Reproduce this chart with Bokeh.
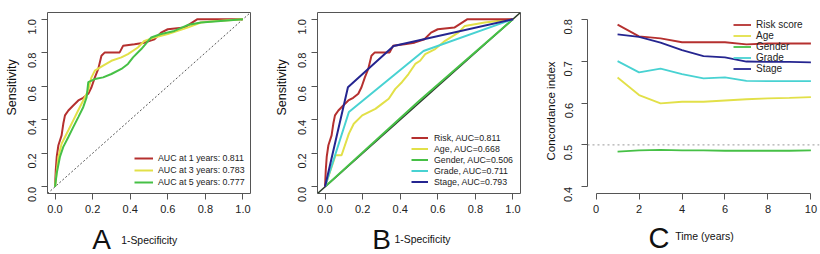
import math
from bokeh.plotting import figure
from bokeh.layouts import row, column
from bokeh.models import Range1d, FixedTicker, Legend, LegendItem, Label, Title
from bokeh.embed import file_html
from bokeh.resources import INLINE

FONT = "Liberation Sans"

# ---------------- data ----------------
# Panel A: time-dependent ROC (1-Specificity, Sensitivity)
a_1y_fpr = [0, 0.004, 0.009, 0.018, 0.035, 0.044, 0.053, 0.071, 0.097, 0.124, 0.150, 0.177,
            0.194, 0.212, 0.230, 0.247, 0.265, 0.344, 0.362, 0.423, 0.476, 0.529, 0.564, 0.600,
            0.688, 0.758, 1.0]
a_1y_tpr = [0, 0.099, 0.178, 0.248, 0.307, 0.376, 0.426, 0.455, 0.485, 0.515, 0.531, 0.555,
            0.594, 0.653, 0.703, 0.782, 0.802, 0.802, 0.841, 0.850, 0.860, 0.880, 0.920, 0.940,
            0.950, 1.0, 1.0]
a_3y_fpr = [0, 0.018, 0.035, 0.053, 0.071, 0.097, 0.123, 0.150, 0.176, 0.194, 0.212, 0.256,
            0.300, 0.353, 0.388, 0.441, 0.476, 0.529, 0.600, 0.653, 0.705, 0.776, 0.864, 1.0]
a_3y_tpr = [0, 0.178, 0.257, 0.297, 0.337, 0.396, 0.455, 0.515, 0.574, 0.653, 0.693, 0.723,
            0.752, 0.772, 0.792, 0.831, 0.871, 0.891, 0.911, 0.931, 0.950, 0.980, 0.990, 1.0]
a_5y_fpr = [0, 0.009, 0.026, 0.044, 0.071, 0.097, 0.124, 0.150, 0.168, 0.177, 0.212, 0.256,
            0.300, 0.353, 0.388, 0.415, 0.459, 0.512, 0.560, 0.635, 0.705, 0.776, 0.864, 1.0]
a_5y_tpr = [0, 0.080, 0.178, 0.238, 0.297, 0.356, 0.416, 0.475, 0.534, 0.624, 0.643, 0.653,
            0.673, 0.703, 0.733, 0.772, 0.822, 0.891, 0.910, 0.930, 0.965, 0.980, 0.988, 1.0]
a_labels = ["AUC at 1 years: 0.811", "AUC at 3 years: 0.783", "AUC at 5 years: 0.777"]

# Panel B: ROC of risk score vs clinical variables
b_risk_fpr = a_1y_fpr
b_risk_tpr = a_1y_tpr
b_age_fpr = [0, 0.056, 0.088, 0.127, 0.153, 0.198, 0.233, 0.268, 0.303, 0.339, 0.374, 0.409,
             0.444, 0.480, 0.506, 0.533, 0.586, 0.639, 0.709, 0.744, 0.850, 1.0]
b_age_tpr = [0, 0.188, 0.188, 0.317, 0.376, 0.426, 0.446, 0.465, 0.495, 0.525, 0.584, 0.624,
             0.673, 0.733, 0.752, 0.792, 0.822, 0.871, 0.920, 0.960, 0.980, 1.0]
b_gender_fpr = [0, 0.5, 1.0]
b_gender_tpr = [0, 0.512, 1.0]
b_grade_fpr = [0, 0.127, 0.524, 1.0]
b_grade_tpr = [0, 0.446, 0.810, 1.0]
b_stage_fpr = [0, 0.122, 0.365, 1.0]
b_stage_tpr = [0, 0.594, 0.840, 1.0]
b_labels = ["Risk, AUC=0.811", "Age, AUC=0.668", "Gender, AUC=0.506",
            "Grade, AUC=0.711", "Stage, AUC=0.793"]

# Panel C: concordance index over time
c_years = [1, 2, 3, 4, 5, 6, 7, 8, 9, 10]
c_risk = [0.787, 0.759, 0.754, 0.745, 0.745, 0.745, 0.740, 0.742, 0.742, 0.742]
c_age = [0.661, 0.619, 0.599, 0.603, 0.603, 0.606, 0.609, 0.611, 0.612, 0.614]
c_gender = [0.484, 0.487, 0.488, 0.487, 0.487, 0.486, 0.486, 0.486, 0.486, 0.487]
c_grade = [0.700, 0.673, 0.682, 0.669, 0.659, 0.661, 0.653, 0.652, 0.652, 0.652]
c_stage = [0.764, 0.758, 0.744, 0.726, 0.712, 0.709, 0.699, 0.698, 0.698, 0.697]
c_labels = ["Risk score", "Age", "Gender", "Grade", "Stage"]

roc_ticks = [0, 0.2, 0.4, 0.6, 0.8, 1.0]
roc_tick_labels = ["0.0", "0.2", "0.4", "0.6", "0.8", "1.0"]
c_xticks = [0, 2, 4, 6, 8, 10]
c_yticks = [0.4, 0.5, 0.6, 0.7, 0.8]
c_ytick_labels = ["0.4", "0.5", "0.6", "0.7", "0.8"]

panel_letters = ["A", "B", "C"]
x_titles = ["1-Specificity", "1-Specificity", "Time (years)"]
y_titles = ["Sensitivity", "Sensitivity", "Concordance index"]

RED = "#B5302F"
YEL = "#E2E048"
GRN = "#46C046"
CYA = "#48D2D2"
BLU = "#252590"
AX = "#555555"
TXT = "#222222"

MAIN_H = 222


def style_axes(p, ystand=9, xstand=5, tick_out=6):
    for ax in (p.xaxis[0], p.yaxis[0]):
        ax.axis_line_color = AX
        ax.major_tick_line_color = AX
        ax.minor_tick_line_color = None
        ax.major_tick_in = 0
        ax.major_tick_out = tick_out
        ax.major_label_text_font = FONT
        ax.major_label_text_font_size = "11px"
        ax.major_label_text_color = TXT
    p.xaxis[0].major_label_standoff = xstand
    p.yaxis[0].major_label_standoff = ystand
    p.yaxis[0].major_label_orientation = math.pi / 2
    p.xgrid.visible = False
    p.ygrid.visible = False


def y_title(p, text, size, offset, standoff):
    # align="left" on a left-side title puts the start of the text at the frame bottom,
    # shifted upward by `offset`
    p.add_layout(Title(text=text, align="left", offset=offset, standoff=standoff,
                       text_font=FONT, text_font_size=size, text_font_style="normal",
                       text_color="#111111"), "left")


def make_legend(p, items, loc, font, height, gw, standoff, spacing=0):
    lg = Legend(items=items, location=loc, border_line_color=None,
                background_fill_alpha=0, padding=0, margin=0, spacing=spacing,
                label_height=height, glyph_height=height, glyph_width=gw,
                label_standoff=standoff, label_text_font=FONT,
                label_text_font_size=font, label_text_color=TXT)
    p.add_layout(lg)


def roc_fig(left):
    p = figure(width=270, height=MAIN_H, output_backend="svg", toolbar_location=None,
               x_range=Range1d(-0.04, 1.04), y_range=Range1d(-0.04, 1.04),
               min_border_left=left, min_border_right=20, min_border_top=12,
               min_border_bottom=MAIN_H - 193)
    p.outline_line_color = AX
    p.outline_line_width = 1
    style_axes(p)
    for ax in (p.xaxis[0], p.yaxis[0]):
        ax.ticker = FixedTicker(ticks=roc_ticks)
        ax.major_label_overrides = {t: l for t, l in zip(roc_ticks, roc_tick_labels)}
        ax.bounds = (0, 1)
    return p


# ---------------- Panel A ----------------
pA = roc_fig(46)
pA.line([-0.04, 1.04], [-0.04, 1.04], line_color="#555555", line_width=1, line_dash="2 2")
rA1 = pA.line(a_1y_fpr, a_1y_tpr, line_color=RED, line_width=2)
rA3 = pA.line(a_3y_fpr, a_3y_tpr, line_color=YEL, line_width=2)
rA5 = pA.line(a_5y_fpr, a_5y_tpr, line_color=GRN, line_width=2)
make_legend(pA, [LegendItem(label=l, renderers=[r]) for l, r in zip(a_labels, [rA1, rA3, rA5])],
            (87, 5), "8.8px", 12, 19, 5)
y_title(pA, y_titles[0], "12.5px", 78, 5)

# ---------------- Panel B ----------------
pB = roc_fig(47)
pB.line([-0.04, 1.04], [-0.04, 1.04], line_color="#2a3a2a", line_width=1.5)
rBg = pB.line(b_gender_fpr, b_gender_tpr, line_color=GRN, line_width=2)
rBa = pB.line(b_age_fpr, b_age_tpr, line_color=YEL, line_width=2)
rBc = pB.line(b_grade_fpr, b_grade_tpr, line_color=CYA, line_width=2)
rBr = pB.line(b_risk_fpr, b_risk_tpr, line_color=RED, line_width=2)
rBs = pB.line(b_stage_fpr, b_stage_tpr, line_color=BLU, line_width=2)
make_legend(pB, [LegendItem(label=l, renderers=[r]) for l, r in
                 zip(b_labels, [rBr, rBa, rBg, rBc, rBs])],
            (94, 6), "8.8px", 11, 17, 6)
y_title(pB, y_titles[1], "12.5px", 78, 5)

# ---------------- Panel C ----------------
pC = figure(width=280, height=MAIN_H, output_backend="svg", toolbar_location=None,
            x_range=Range1d(-0.4, 10.4), y_range=Range1d(0.384, 0.816),
            min_border_left=47, min_border_right=1, min_border_top=10,
            min_border_bottom=MAIN_H - 193)
pC.outline_line_color = None
style_axes(pC, ystand=13, xstand=5, tick_out=6)
pC.xaxis[0].ticker = FixedTicker(ticks=c_xticks)
pC.xaxis[0].bounds = (0, 10)
pC.yaxis[0].ticker = FixedTicker(ticks=c_yticks)
pC.yaxis[0].major_label_overrides = {t: l for t, l in zip(c_yticks, c_ytick_labels)}
pC.yaxis[0].bounds = (0.4, 0.8)
pC.line([-0.4, 10.4], [0.5, 0.5], line_color="#999999", line_width=1, line_dash="2 3")
rCr = pC.line(c_years, c_risk, line_color=RED, line_width=1.8)
rCa = pC.line(c_years, c_age, line_color=YEL, line_width=1.8)
rCg = pC.line(c_years, c_gender, line_color=GRN, line_width=1.8)
rCc = pC.line(c_years, c_grade, line_color=CYA, line_width=1.8)
rCs = pC.line(c_years, c_stage, line_color=BLU, line_width=1.8)
make_legend(pC, [LegendItem(label=l, renderers=[r]) for l, r in
                 zip(c_labels, [rCr, rCa, rCg, rCc, rCs])],
            (146, 119), "10px", 11, 18, 5)
y_title(pC, y_titles[2], "11.5px", 33, 2)

# ---------------- bottom strip with panel letters and x titles ----------------
strip = figure(width=820, height=254 - MAIN_H, output_backend="svg", toolbar_location=None,
               x_range=Range1d(0, 820), y_range=Range1d(254, MAIN_H),
               x_axis_type=None, y_axis_type=None, min_border=0)
strip.outline_line_color = None
strip.xgrid.visible = False
strip.ygrid.visible = False

letter_x = [91.7, 371.7, 648.0]
letter_mid = [239.0, 238.5, 237.5]
letter_size = ["28px", "28px", "29px"]
xt_x = [148.7, 422.0, 704.0]
xt_y = [240.0, 239.3, 235.0]
xt_size = ["10.4px", "10.4px", "10.5px"]
for i in range(3):
    strip.add_layout(Label(x=letter_x[i], y=letter_mid[i], text=panel_letters[i],
                           text_font=FONT, text_font_size=letter_size[i], text_color="#111111",
                           text_align="left", text_baseline="middle"))
    strip.add_layout(Label(x=xt_x[i], y=xt_y[i], text=x_titles[i],
                           text_font=FONT, text_font_size=xt_size[i], text_color="#111111",
                           text_align="center", text_baseline="middle"))

layout = column(row(pA, pB, pC), strip)
open("out.html", "w").write(file_html(layout, INLINE))
